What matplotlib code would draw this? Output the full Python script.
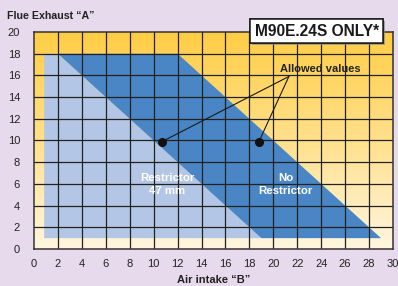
import numpy as np
import matplotlib
matplotlib.use("Agg")
import matplotlib.pyplot as plt
import matplotlib.patheffects as pe
from matplotlib.colors import LinearSegmentedColormap

plt.rcParams["font.family"] = ["Liberation Sans", "DejaVu Sans"]

# chart values
x_ticks = list(range(0, 31, 2))
y_ticks = list(range(0, 21, 2))

restrictor_x = [0.85, 0.85, 2, 19]
restrictor_y = [1, 18, 18, 1]
no_restrictor_x = [2, 12, 29, 19]
no_restrictor_y = [18, 18, 1, 1]

allowed_x = [10.7, 18.8]
allowed_y = [9.9, 9.9]
callout_xy = (21.3, 15.9)

BG = "#e7daec"
DARK_BLUE = "#4a86c5"
LIGHT_BLUE = "#b4c6e5"
GRID = "#222222"

fig = plt.figure(figsize=(3.98, 2.86), dpi=100)
fig.patch.set_facecolor(BG)
ax = fig.add_axes([0.0854, 0.1294, 0.902, 0.7587])

# yellow vertical gradient background
cmap = LinearSegmentedColormap.from_list("yel", ["#fff6e0", "#ffe08c", "#ffcd45"])
grad = np.linspace(0, 1, 256).reshape(-1, 1)
ax.imshow(grad, cmap=cmap, origin="lower", extent=[0, 30, 0, 20],
          aspect="auto", zorder=0)

ax.fill(restrictor_x, restrictor_y, color=LIGHT_BLUE, lw=0, zorder=1)
ax.fill(no_restrictor_x, no_restrictor_y, color=DARK_BLUE, lw=0, zorder=1)

for xv in x_ticks[1:-1]:
    ax.axvline(xv, color=GRID, lw=0.9, zorder=2)
for yv in y_ticks[1:-1]:
    ax.axhline(yv, color=GRID, lw=0.9, zorder=2)

ax.set_xlim(0, 30)
ax.set_ylim(0, 20)
ax.set_xticks(x_ticks)
ax.set_yticks(y_ticks)
ax.tick_params(length=0, labelsize=8, colors="#222222")
ax.tick_params(axis="x", pad=7)
ax.tick_params(axis="y", pad=10)
for s in ax.spines.values():
    s.set_color("#333333")
    s.set_linewidth(1.1)
    s.set_zorder(3)

# callout lines and dots
for px, py in zip(allowed_x, allowed_y):
    ax.plot([callout_xy[0], px], [callout_xy[1], py], color="#1a1a1a", lw=0.8, zorder=4)
ax.plot(allowed_x, allowed_y, "o", color="#111111", ms=5.5, zorder=5)
ax.text(23.95, 16.6, "Allowed values", fontsize=8, fontweight="bold",
        color="#222222", ha="center", va="center", zorder=5)

ax.text(11.15, 5.95, "Restrictor\n47 mm", fontsize=8.2, fontweight="bold",
        color="white", ha="center", va="center", linespacing=1.45, zorder=5)
ax.text(21.05, 5.95, "No\nRestrictor", fontsize=8.2, fontweight="bold",
        color="white", ha="center", va="center", linespacing=1.45, zorder=5)

box = ax.text(23.62, 20.07, "M90E.24S ONLY*", fontsize=11.2, fontweight="bold",
              color="#1a1a1a", ha="center", va="center", clip_on=False, zorder=6,
              bbox=dict(boxstyle="square,pad=0.28", fc="white", ec="#1a1a1a", lw=1.1))
box.get_bbox_patch().set_path_effects([
    pe.withSimplePatchShadow(offset=(1.5, -1.5), shadow_rgbFace="#888888", alpha=0.7),
    pe.Normal()])

fig.text(7 / 398, 1 - 16 / 286, "Flue Exhaust \u201cA\u201d", fontsize=7.7,
         fontweight="bold", color="#222222", ha="left", va="center")
fig.text(213.5 / 398, 1 - 280 / 286, "Air intake \u201cB\u201d", fontsize=8,
         fontweight="bold", color="#222222", ha="center", va="center")

fig.savefig("out.png", dpi=100, facecolor=fig.get_facecolor())
